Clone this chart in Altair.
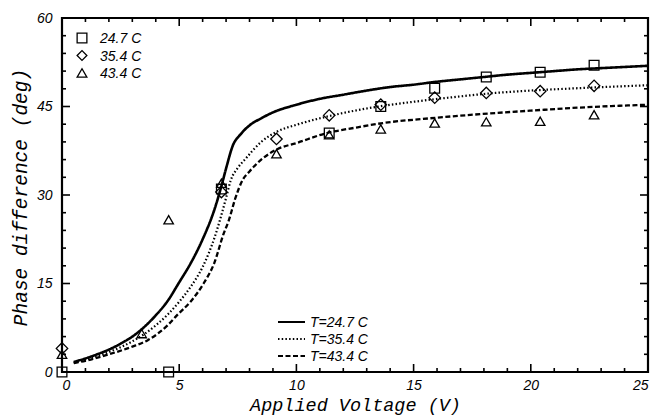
import altair as alt
import pandas as pd

# Measured phase difference vs. applied voltage
v_meas = [0.0, 4.55, 6.8, 11.4, 13.6, 15.9, 18.1, 20.4, 22.7]
sq_247 = [0.0, 0.0, 31.0, 40.5, 45.0, 48.1, 50.0, 50.8, 52.0]

v_dia = [0.0, 6.8, 9.15, 11.4, 13.6, 15.9, 18.1, 20.4, 22.7]
dia_354 = [4.0, 30.5, 39.5, 43.5, 45.3, 46.5, 47.3, 47.6, 48.5]

v_tri = [0.0, 3.4, 4.55, 6.8, 9.15, 11.4, 13.6, 15.9, 18.1, 20.4, 22.7]
tri_434 = [3.0, 6.5, 25.8, 32.0, 37.0, 40.2, 41.2, 42.2, 42.4, 42.5, 43.6]

# Model curves
fit_x_247 = [0.5, 1.0, 1.5, 2.0, 2.5, 3.0, 3.5, 4.0, 4.5, 5.0, 5.5, 6.0, 6.5, 6.8,
             7.0, 7.3, 7.6, 8.0, 8.5, 9.0, 10, 11, 12, 13, 14, 15, 16, 17, 18,
             19, 20, 21, 22, 23, 24, 25]
fit_y_247 = [1.7, 2.3, 3.0, 3.8, 4.8, 6.0, 7.6, 9.6, 12.0, 15.2, 18.5, 22.5, 27.5, 31.5,
             34.5, 38.5, 40.2, 41.8, 43.0, 44.0, 45.3, 46.3, 47.0, 47.7, 48.3, 48.7,
             49.2, 49.6, 50.0, 50.4, 50.7, 51.0, 51.3, 51.5, 51.7, 51.9]

fit_x_354 = [0.5, 1.0, 1.5, 2.0, 2.5, 3.0, 3.5, 4.0, 4.5, 5.0, 5.5, 6.0, 6.5, 7.0,
             7.2, 7.5, 7.8, 8.5, 9.2, 10, 11, 12, 13.5, 15, 16.5, 18.5, 20, 22, 25]
fit_y_354 = [1.6, 2.1, 2.7, 3.4, 4.2, 5.2, 6.4, 7.9, 9.7, 11.9, 14.5, 17.8, 22.7, 29.5,
             32.5, 34.6, 36.0, 39.0, 40.8, 41.9, 43.0, 43.9, 45.0, 45.8, 46.5, 47.3,
             47.7, 48.1, 48.6]

fit_x_434 = [0.5, 1.0, 2.0, 3.0, 3.66, 4.5, 4.9, 5.5, 6.04, 6.5, 6.9, 7.1, 7.4, 7.7,
             8.0, 8.5, 9.2, 10, 11.3, 12.5, 13.7, 15.7, 18.5, 20, 22, 25]
fit_y_434 = [1.5, 1.9, 3.0, 4.3, 5.4, 7.9, 9.6, 12.0, 15.0, 18.5, 23.5, 25.5, 29.5, 32.5,
             34.0, 36.0, 37.8, 38.8, 40.5, 41.4, 42.2, 43.0, 43.9, 44.3, 44.8, 45.3]

x_major = [0, 5, 10, 15, 20, 25]
x_minor = [v for v in range(1, 25) if v % 5 != 0]
y_major = [0, 15, 30, 45, 60]
y_minor = [v for v in range(3, 60, 3) if v % 15 != 0]

marker_labels = ["24.7 C", "35.4 C", "43.4 C"]
marker_shapes = ["square", "diamond", "triangle-up"]
line_labels = ["T=24.7 C", "T=35.4 C", "T=43.4 C"]
line_dashes = [[1, 0], [1.5, 2.2], [5, 2.5]]

W, H = 586, 354
TICK_FONT = "Liberation Sans"
TITLE_FONT = "Liberation Mono"

xs = alt.Scale(domain=[0, 25], nice=False, zero=False)
ys = alt.Scale(domain=[0, 60], nice=False, zero=False)

x_axis = alt.Axis(values=x_major, ticks=False, domain=False, grid=False,
                  labelFont=TICK_FONT, labelFontStyle="italic", labelFontSize=14,
                  labelColor="black", labelPadding=6,
                  title="Applied Voltage (V)", titleFont=TITLE_FONT,
                  titleFontStyle="italic", titleFontSize=18.5, titleFontWeight="normal",
                  titleColor="black", titleBaseline="middle", titleX=W / 2, titleY=32)
y_axis = alt.Axis(values=y_major, ticks=False, domain=False, grid=False,
                  labelFont=TICK_FONT, labelFontStyle="italic", labelFontSize=14,
                  labelColor="black", labelPadding=10,
                  title="Phase difference (deg)", titleFont=TITLE_FONT,
                  titleFontStyle="italic", titleFontSize=19.5, titleFontWeight="normal",
                  titleColor="black", titleBaseline="middle", titleX=-42, titleY=H / 2 + 2)

def curve(xv, yv, dash, width):
    df = pd.DataFrame({"V": xv, "phase": yv})
    return alt.Chart(df).mark_line(color="black", strokeWidth=width,
                                   strokeDash=dash, interpolate="monotone").encode(
        x=alt.X("V:Q", scale=xs, axis=x_axis),
        y=alt.Y("phase:Q", scale=ys, axis=y_axis),
    )

def points(xv, yv, shape, size):
    df = pd.DataFrame({"V": xv, "phase": yv})
    return alt.Chart(df).mark_point(shape=shape, size=size, filled=False, opacity=1,
                                    color="black", strokeWidth=1.3).encode(
        x=alt.X("V:Q", scale=xs),
        y=alt.Y("phase:Q", scale=ys),
    )

layers = [
    curve(fit_x_247, fit_y_247, line_dashes[0], 2.6),
    curve(fit_x_354, fit_y_354, line_dashes[1], 2.2),
    curve(fit_x_434, fit_y_434, line_dashes[2], 2.3),
    points(v_meas, sq_247, "square", 95),
    points(v_dia, dia_354, "diamond", 130),
    points(v_tri, tri_434, "triangle-up", 90),
]

# inward tick marks on all four sides
xt_major = pd.DataFrame({"t": x_major})
xt_minor = pd.DataFrame({"t": x_minor})
yt_major = pd.DataFrame({"t": y_major})
yt_minor = pd.DataFrame({"t": y_minor})
for df, ln in [(xt_major, 8), (xt_minor, 4)]:
    base = alt.Chart(df).mark_rule(color="black", strokeWidth=1.6)
    layers.append(base.encode(x=alt.X("t:Q", scale=xs), y=alt.value(H), y2=alt.value(H - ln)))
    layers.append(base.encode(x=alt.X("t:Q", scale=xs), y=alt.value(0), y2=alt.value(ln)))
for df, ln in [(yt_major, 8), (yt_minor, 4)]:
    base = alt.Chart(df).mark_rule(color="black", strokeWidth=1.6)
    layers.append(base.encode(y=alt.Y("t:Q", scale=ys), x=alt.value(0), x2=alt.value(ln)))
    layers.append(base.encode(y=alt.Y("t:Q", scale=ys), x=alt.value(W), x2=alt.value(W - ln)))

# marker key, upper left
for i, (lab, shp) in enumerate(zip(marker_labels, marker_shapes)):
    df = pd.DataFrame({"label": [lab]})
    yy = 20 + 17.5 * i
    layers.append(alt.Chart(df).mark_point(shape=shp, size=95, filled=False, opacity=1,
                                           color="black", strokeWidth=1.3).encode(
        x=alt.value(20), y=alt.value(yy)))
    layers.append(alt.Chart(df).mark_text(align="left", baseline="middle",
                                          font=TICK_FONT, fontStyle="italic",
                                          fontSize=14, color="black").encode(
        x=alt.value(38), y=alt.value(yy + 1), text="label:N"))

# line key, lower middle
for i, (lab, dash) in enumerate(zip(line_labels, line_dashes)):
    df = pd.DataFrame({"label": [lab]})
    yy = 304 + 17 * i
    layers.append(alt.Chart(df).mark_rule(color="black", strokeWidth=2.2,
                                          strokeDash=dash).encode(
        x=alt.value(216), x2=alt.value(243), y=alt.value(yy)))
    layers.append(alt.Chart(df).mark_text(align="left", baseline="middle",
                                          font=TICK_FONT, fontStyle="italic",
                                          fontSize=14, color="black").encode(
        x=alt.value(248), y=alt.value(yy + 1), text="label:N"))

chart = alt.layer(*layers).properties(
    width=W, height=H,
    autosize=alt.AutoSizeParams(type="none"),
    padding={"left": 62, "top": 18, "right": 11, "bottom": 45},
    background="white",
).configure_view(stroke="black", strokeWidth=2.2)

chart.save("out.html", embed_options={"renderer": "svg", "actions": False})
